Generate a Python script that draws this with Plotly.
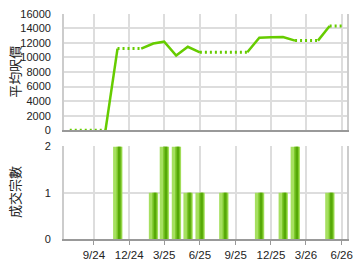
import plotly.graph_objects as go

months = ["2024-07-01","2024-08-01","2024-09-01","2024-10-01","2024-11-01","2024-12-01",
          "2025-01-01","2025-02-01","2025-03-01","2025-04-01","2025-05-01","2025-06-01",
          "2025-07-01","2025-08-01","2025-09-01","2025-10-01","2025-11-01","2025-12-01",
          "2026-01-01","2026-02-01","2026-03-01","2026-04-01","2026-05-01","2026-06-01"]
avg_price = [0, 0, 0, 0, 11200, 11200,
             11200, 11900, 12150, 10250, 11450, 10700,
             10700, 10700, 10700, 10700, 12700, 12750,
             12800, 12300, 12300, 12300, 14300, 14300]
# 1 = solid segment from month i to i+1, 0 = dotted (carried value)
segment_solid = [0, 0, 0, 1, 0, 0, 1, 1, 1, 1, 1, 0, 0, 0, 0, 1, 1, 1, 1, 0, 0, 1, 0]

bar_months = ["2024-11-01","2025-02-01","2025-03-01","2025-04-01","2025-05-01","2025-06-01",
              "2025-08-01","2025-11-01","2026-01-01","2026-02-01","2026-05-01"]
bar_counts = [2, 1, 2, 2, 1, 1, 1, 1, 1, 2, 1]

tick_vals = ["2024-09-01","2024-12-01","2025-03-01","2025-06-01","2025-09-01",
             "2025-12-01","2026-03-01","2026-06-01"]
tick_text = ["9/24","12/24","3/25","6/25","9/25","12/25","3/26","6/26"]

GREEN = "#66cc00"
DAY = 86400000
PX = 2.53 * DAY  # one pixel in time units (approx.)

def build(flag):
    xs, ys = [], []
    for i, s in enumerate(segment_solid):
        if s == flag:
            if xs and xs[-1] == months[i]:
                xs.append(months[i + 1]); ys.append(avg_price[i + 1])
            else:
                if xs:
                    xs.append(None); ys.append(None)
                xs += [months[i], months[i + 1]]
                ys += [avg_price[i], avg_price[i + 1]]
    return xs, ys

fig = go.Figure()
sx, sy = build(1)
dx, dy = build(0)
fig.add_trace(go.Scatter(x=sx, y=sy, mode="lines", line=dict(color=GREEN, width=2.5),
                         connectgaps=False, xaxis="x", yaxis="y", hoverinfo="skip"))
fig.add_trace(go.Scatter(x=dx, y=dy, mode="lines", line=dict(color=GREEN, width=3, dash="2px,3px"),
                         connectgaps=False, xaxis="x", yaxis="y", hoverinfo="skip"))
# bars with a simple gradient look (light body, darker stripe)
for col, off, wd in [("#a6e060", -4.5, 9.5), ("#7cc72a", -1.0, 5.0), ("#56a808", 0.5, 2.5)]:
    fig.add_trace(go.Bar(x=bar_months, y=bar_counts, width=wd * PX, offset=off * PX,
                         marker=dict(color=col, line=dict(width=0)),
                         xaxis="x2", yaxis="y2", hoverinfo="skip"))

xr = ["2024-06-16", "2026-06-15"]
W, H = 360, 270
xd = [65 / W, 353 / W]
grid = "#dddddd"
tfont = dict(family="Noto Sans CJK TC", size=13, color="#222")
fig.update_layout(
    width=W, height=H, margin=dict(l=0, r=0, t=0, b=0), barmode="overlay",
    plot_bgcolor="white", paper_bgcolor="white", showlegend=False,
    font=dict(family="Liberation Sans, Arial, sans-serif", size=11, color="#222"),
    xaxis=dict(domain=xd, anchor="y", type="date", range=xr, tickvals=tick_vals,
               showticklabels=False, showgrid=True, gridcolor=grid, gridwidth=1.5,
               showline=True, linecolor="#999", linewidth=2, zeroline=False),
    yaxis=dict(domain=[1 - 130 / H, 1 - 8 / H], anchor="x", range=[0, 16000], dtick=2000,
               tickformat="d", showgrid=True, gridcolor=grid, gridwidth=1.5, showline=True,
               linecolor="#ccc", linewidth=1.5, mirror=True, zeroline=False, ticks="",
               ticklabelstandoff=9),
    xaxis2=dict(domain=xd, anchor="y2", type="date", range=xr, tickvals=tick_vals, ticktext=tick_text,
                showgrid=True, gridcolor=grid, gridwidth=1.5, showline=True, linecolor="#999",
                linewidth=2, ticks="outside", ticklen=4, tickcolor="#999", zeroline=False,
                tickfont=dict(size=11.5)),
    yaxis2=dict(domain=[1 - 244 / H, 1 - 147 / H], anchor="x2", range=[0, 2], dtick=1,
                showgrid=True, gridcolor=grid, gridwidth=1.5, showline=True, linecolor="#ccc",
                linewidth=1.5, mirror=True, zeroline=False, ticks="", ticklabelstandoff=9),
    annotations=[
        dict(text="平均呎價", x=15 / W, y=1 - 69 / H, xref="paper", yref="paper",
             textangle=-90, showarrow=False, font=tfont, xanchor="center", yanchor="middle"),
        dict(text="成交宗數", x=15 / W, y=1 - 195 / H, xref="paper", yref="paper",
             textangle=-90, showarrow=False, font=tfont, xanchor="center", yanchor="middle"),
    ],
)
fig.write_html("out.html")
